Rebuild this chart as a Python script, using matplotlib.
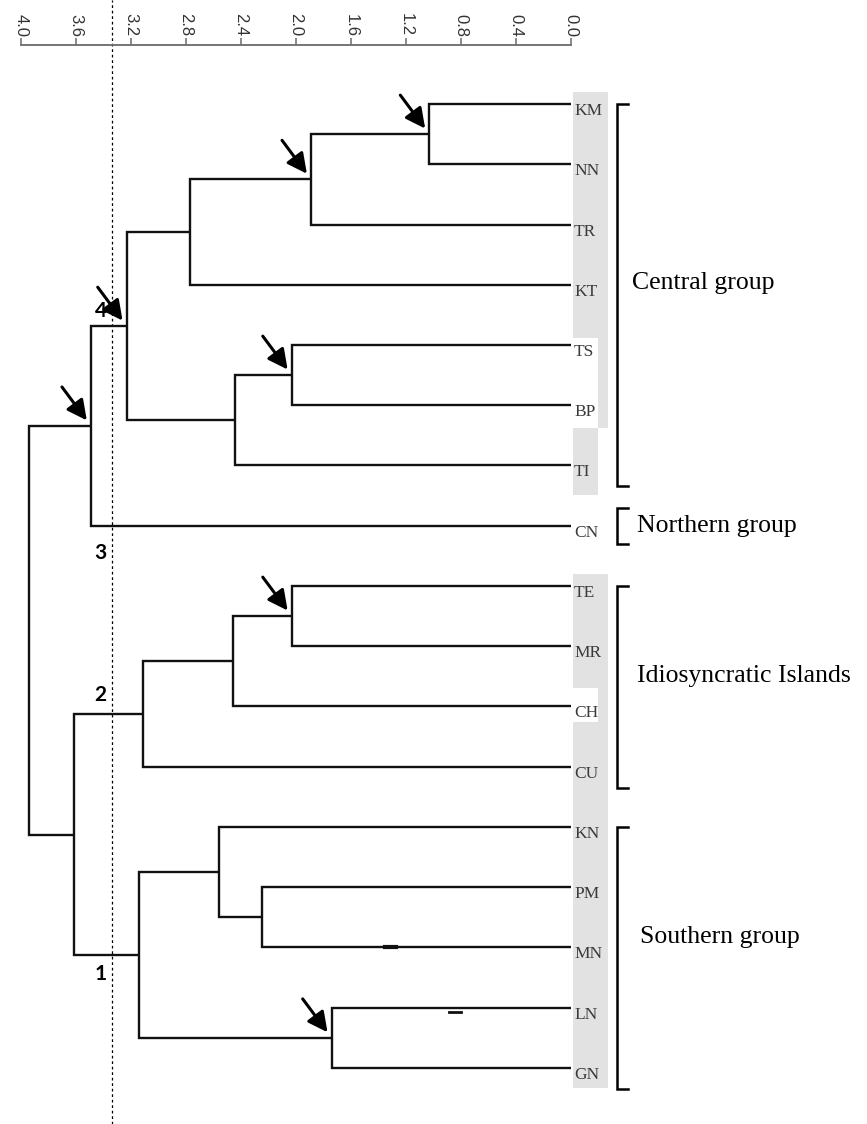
import matplotlib
matplotlib.use("Agg")
import matplotlib.pyplot as plt
from matplotlib.patches import Rectangle
from matplotlib.transforms import offset_copy

# ---- data -----------------------------------------------------------------
leaves = ["KM", "NN", "TR", "KT", "TS", "BP", "TI", "CN",
          "TE", "MR", "CH", "CU", "KN", "PM", "MN", "LN", "GN"]

# agglomeration steps: (left child, right child, linkage distance)
merge_names  = ["n1", "n2", "n3", "n4", "n5", "n6", "n7", "n8",
                "n9", "n10", "n11", "n12", "n13", "n14", "n15", "n16"]
merge_left   = ["KM", "n1", "n2", "TS", "n4", "n3", "n6", "TE",
                "n8", "n9", "PM", "KN", "LN", "n12", "n10", "n7"]
merge_right  = ["NN", "TR", "KT", "BP", "TI", "n5", "CN", "MR",
                "CH", "CU", "MN", "n11", "GN", "n13", "n14", "n15"]
merge_height = [1.03, 1.89, 2.77, 2.03, 2.44, 3.23, 3.49, 2.03,
                2.46, 3.11, 2.25, 2.56, 1.74, 3.14, 3.61, 3.94]

arrow_nodes = ["n1", "n2", "n4", "n6", "n7", "n8", "n13"]
cutoff = 3.34

scale_ticks = [4.0, 3.6, 3.2, 2.8, 2.4, 2.0, 1.6, 1.2, 0.8, 0.4, 0.0]

groups = ["Central group", "Northern group", "Idiosyncratic Islands", "Southern group"]
group_first = ["KM", "CN", "TE", "KN"]
group_last = ["TI", "CN", "CU", "GN"]

cluster_labels = ["1", "2", "3", "4"]
cluster_anchor = ["n14", "n10", "CN", "n6"]

# ---- layout ---------------------------------------------------------------
W, H = 867, 1124
X_MAX_PX, X_ZERO_PX = 20.8, 571.0       # pixel columns of 4.0 and 0.0
TOP_LEAF_PX, LEAF_STEP = 104.0, 60.25   # first leaf row and row spacing
DX = 4.0 / (X_ZERO_PX - X_MAX_PX)       # data units per pixel (x)
DY = 1.0 / LEAF_STEP                    # leaf units per pixel (y)

fig = plt.figure(figsize=(W / 100, H / 100), dpi=100)
fig.patch.set_facecolor("white")

ax = fig.add_axes([X_MAX_PX / W, 0, (X_ZERO_PX - X_MAX_PX) / W, 1])
ax.set_xlim(4.0, 0.0)
ax.set_ylim(len(leaves) - 1 + (H - TOP_LEAF_PX - 16 * LEAF_STEP) * DY, -TOP_LEAF_PX * DY)
ax.axis("off")

# node coordinates
pos = {name: (0.0, float(i)) for i, name in enumerate(leaves)}
for name, l, r, h in zip(merge_names, merge_left, merge_right, merge_height):
    pos[name] = (h, (pos[l][1] + pos[r][1]) / 2)

# cut level
ax.axvline(cutoff, color="black", lw=0.9, ls=(0, (2.2, 2.2)), zorder=1)

# tree branches
for name, l, r, h in zip(merge_names, merge_left, merge_right, merge_height):
    (hl, yl), (hr, yr) = pos[l], pos[r]
    ax.plot([hl, h, h, hr], [yl, yl, yr, yr], color="#111111", lw=1.7,
            solid_joinstyle="miter", solid_capstyle="butt", zorder=3)

# stray marks on two terminal branches
ax.plot([1.353, 1.273], [pos["MN"][1], pos["MN"][1]], color="#111111", lw=3.0, zorder=3)
ax.plot([0.887, 0.800], [pos["LN"][1] + 4 * DY] * 2, color="#111111", lw=2.0, zorder=3)

# arrows pointing at supported nodes
for name in arrow_nodes:
    ax.annotate("", xy=pos[name], xytext=(-29, 39), textcoords="offset pixels",
                arrowprops=dict(arrowstyle="-|>,head_length=0.75,head_width=0.38",
                                color="black", lw=2.2, shrinkA=0, shrinkB=5,
                                mutation_scale=16),
                zorder=5)

# shaded label column
gray = "#e2e2e2"
def shade(x0_px, x1_px, y0_px, y1_px):
    ax.add_patch(Rectangle((-x0_px * DX, (y0_px - TOP_LEAF_PX) * DY),
                           -(x1_px - x0_px) * DX, (y1_px - y0_px) * DY,
                           facecolor=gray, edgecolor="none", zorder=0, clip_on=False))

shade(2, 37, 92, 338)
shade(27, 37, 338, 428)
shade(2, 27, 428, 495)
shade(2, 37, 574, 688)
shade(27, 37, 688, 722)
shade(2, 37, 722, 1088)

# leaf labels
lab_tr = offset_copy(ax.transData, fig=fig, x=3, y=-7, units="dots")
for i, name in enumerate(leaves):
    ax.text(0.0, i, name, transform=lab_tr, ha="left", va="center",
            fontsize=12.5, family="Liberation Serif", color="#3a3a3a", zorder=4)

# group brackets and names
bx, tx = -46 * DX, -57 * DX
for g, first, last in zip(groups, group_first, group_last):
    y0 = pos[first][1]
    y1 = pos[last][1]
    if first == last:
        y0, y1 = y0 - 18 * DY, y1 + 18 * DY
    else:
        y1 = y1 + 21 * DY
    ax.plot([tx, bx, bx, tx], [y0, y0, y1, y1], color="black", lw=1.8,
            clip_on=False, solid_joinstyle="miter", zorder=3)

group_y = [pos["KT"][1] - 0.03, pos["CN"][1], (pos["MR"][1] + pos["CH"][1]) / 2,
           pos["MN"][1] - 0.17]
group_x = [-61 * DX, -66 * DX, -66 * DX, -69 * DX]
for g, gx, gy in zip(groups, group_x, group_y):
    ax.text(gx, gy, g, ha="left", va="center", fontsize=18.5,
            family="Liberation Serif", color="black", clip_on=False)

# numbered clusters at the cut level
num_off = {"n14": 19, "n10": -19, "CN": 27, "n6": -15}
num_tr = offset_copy(ax.transData, fig=fig, x=-5, y=0, units="dots")
for lab, anc in zip(cluster_labels, cluster_anchor):
    ax.text(cutoff, pos[anc][1] + num_off[anc] * DY, lab, transform=num_tr,
            ha="right", va="center", fontsize=15, fontweight="bold",
            family="Lato", color="black")

# distance scale along the top
sax = fig.add_axes([X_MAX_PX / W, 1 - 45 / H, (X_ZERO_PX - X_MAX_PX) / W, 1e-4])
sax.set_xlim(4.0, 0.0)
sax.set_facecolor("none")
for s in ["left", "right", "bottom"]:
    sax.spines[s].set_visible(False)
sax.spines["top"].set_color("#6a6a6a")
sax.spines["top"].set_linewidth(1.3)
sax.set_yticks([])
sax.xaxis.set_ticks_position("top")
sax.xaxis.set_label_position("top")
sax.set_xticks(scale_ticks)
sax.set_xticklabels([f"{t:.1f}" for t in scale_ticks], rotation=270,
                    family="Liberation Sans", fontsize=12, color="#333333")
sax.tick_params(axis="x", direction="out", length=5, width=1.1, color="#6a6a6a", pad=1)

fig.savefig("out.png", dpi=100, facecolor="white")
